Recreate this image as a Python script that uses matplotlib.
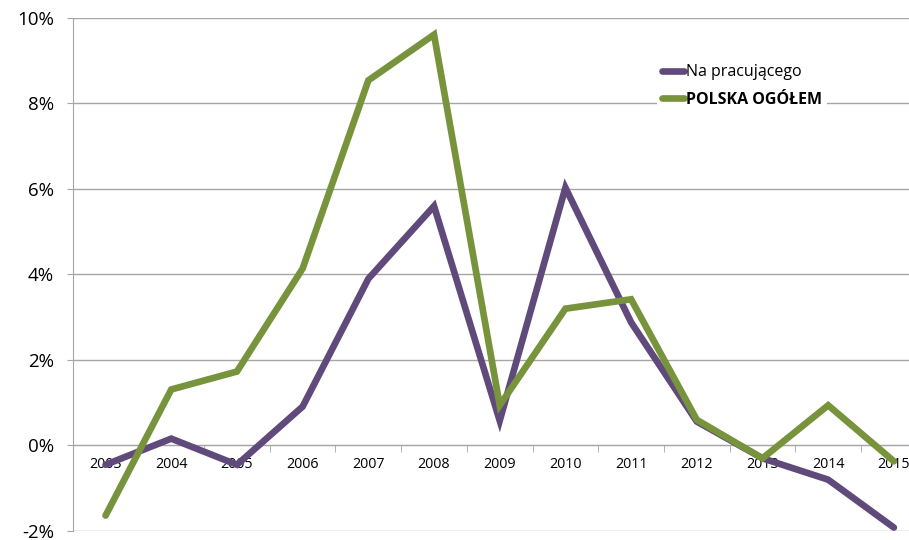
import matplotlib.pyplot as plt
import numpy as np
from matplotlib.ticker import FuncFormatter

years = ['2003', '2004', '2005', '2006', '2007', '2008', '2009',
         '2010', '2011', '2012', '2013', '2014', '2015']
na_pracujacego = [-0.45, 0.16, -0.45, 0.91, 3.9, 5.6, 0.58,
                  6.03, 2.88, 0.56, -0.3, -0.8, -1.92]
polska_ogolem = [-1.64, 1.31, 1.73, 4.14, 8.54, 9.61, 0.94,
                 3.2, 3.42, 0.6, -0.3, 0.94, -0.37]

plt.rcParams['font.family'] = ['Open Sans', 'DejaVu Sans']

fig = plt.figure(figsize=(9.09, 5.40), dpi=100)
ax = fig.add_axes([0.080, 0.0167, 0.9395, 0.95])

x = np.arange(len(years))
ax.plot(x, na_pracujacego, color='#604A7B', lw=4.8, label='Na pracującego',
        solid_capstyle='round', solid_joinstyle='miter', zorder=3)
ax.plot(x, polska_ogolem, color='#77933C', lw=4.8, label='POLSKA OGÓŁEM',
        solid_capstyle='round', solid_joinstyle='miter', zorder=4)

ax.set_xlim(-0.5, len(years) - 0.5)
ax.set_ylim(-2, 10)
ax.set_yticks(np.arange(-2, 11, 2))
ax.yaxis.set_major_formatter(FuncFormatter(lambda v, p: f'{v:.0f}%'))
ax.grid(axis='y', color='#a6a6a6', lw=1)
ax.set_axisbelow(True)

for s in ['top', 'right']:
    ax.spines[s].set_visible(False)
ax.spines['left'].set_color('#a6a6a6')
ax.spines['bottom'].set_color('#a6a6a6')
ax.spines['bottom'].set_position(('data', 0))

ax.set_xticks(x)
ax.set_xticklabels(years, fontsize=10.3)
ax.set_xticks(np.arange(-0.5, len(years), 1), minor=True)
ax.tick_params(axis='x', which='major', length=0, pad=8)
ax.tick_params(axis='x', which='minor', length=5, color='#a6a6a6', direction='out')
ax.tick_params(axis='y', length=4.5, color='#a6a6a6', labelsize=13.5, pad=9)

leg = ax.legend(loc='upper left', bbox_to_anchor=(0.675, 0.935), frameon=True,
                edgecolor='none', facecolor='white', framealpha=1,
                fontsize=11.5, handlelength=1.4, handletextpad=0.1,
                labelspacing=0.75, borderpad=0.3)
leg.get_texts()[1].set_fontweight('bold')

fig.savefig('out.png', dpi=100, facecolor='white')
